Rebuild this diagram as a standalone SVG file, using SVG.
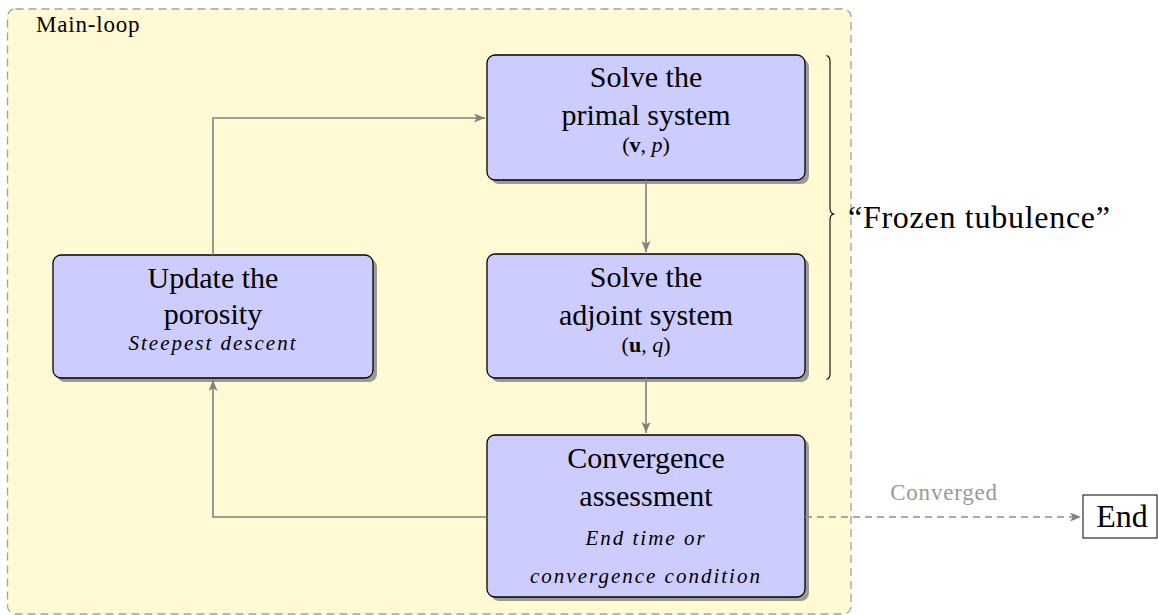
<svg xmlns="http://www.w3.org/2000/svg" width="1158" height="615" viewBox="0 0 1158 615">
<style>
.main{font-family:"Liberation Serif","Times New Roman",serif;font-size:30px;fill:#000;text-anchor:middle}
.sub{font-family:"Liberation Serif","Times New Roman",serif;font-size:22px;fill:#000;text-anchor:middle}
.it{font-family:"Liberation Serif","Times New Roman",serif;font-size:21px;font-style:italic;letter-spacing:2px;fill:#000;text-anchor:middle}
.node{fill:#CCCCFF;stroke:#000;stroke-width:1.3}
.shadow{fill:#9b9b93}
.conn{fill:none;stroke:#808080;stroke-width:1.6}
.dash{fill:none;stroke:#8c8c8c;stroke-width:1.6;stroke-dasharray:7 5}
</style>
<defs>
<marker id="arr" markerUnits="userSpaceOnUse" markerWidth="13" markerHeight="10" refX="11" refY="4.5" orient="auto">
<path d="M0,0 L11,4.5 L0,9 L2.8,4.5 z" fill="#808080"/>
</marker>
</defs>
<g id="main-loop">
<rect x="7.5" y="9" width="843.5" height="605" rx="8" fill="#FFFAD4" stroke="#a0a0a0" stroke-width="1.3" stroke-dasharray="8 5"/>
<text x="36" y="32" style="font-family:'Liberation Serif','Times New Roman',serif;font-size:23px;letter-spacing:0.8px">Main-loop</text>
</g>
<g id="primal">
<rect class="shadow" x="491" y="59" width="318" height="125" rx="8"/>
<rect class="node" x="487" y="55" width="318" height="125" rx="8"/>
<text class="main" x="646" y="87">Solve the</text>
<text class="main" x="646" y="125">primal system</text>
<text class="sub" x="646" y="152">(<tspan font-weight="bold">v</tspan>, <tspan font-style="italic">p</tspan>)</text>
</g>
<g id="adjoint">
<rect class="shadow" x="491" y="258" width="318" height="124" rx="8"/>
<rect class="node" x="487" y="254" width="318" height="124" rx="8"/>
<text class="main" x="646" y="287">Solve the</text>
<text class="main" x="646" y="325">adjoint system</text>
<text class="sub" x="646" y="352">(<tspan font-weight="bold">u</tspan>, <tspan font-style="italic">q</tspan>)</text>
</g>
<g id="update">
<rect class="shadow" x="57" y="259" width="320" height="123" rx="8"/>
<rect class="node" x="53" y="255" width="320" height="123" rx="8"/>
<text class="main" x="213" y="288">Update the</text>
<text class="main" x="213" y="324">porosity</text>
<text class="it" x="213" y="350">Steepest descent</text>
</g>
<g id="convergence">
<rect class="shadow" x="491" y="439" width="318" height="162" rx="8"/>
<rect class="node" x="487" y="435" width="318" height="162" rx="8"/>
<text class="main" x="646" y="468">Convergence</text>
<text class="main" x="646" y="506">assessment</text>
<text class="it" x="646" y="545">End time or</text>
<text class="it" x="646" y="583">convergence condition</text>
</g>
<g id="end">
<rect x="1083" y="495" width="74" height="43" fill="#fff" stroke="#000" stroke-width="1"/>
<text x="1122" y="527" style="font-family:'Liberation Serif','Times New Roman',serif;font-size:32px;text-anchor:middle">End</text>
</g>
<g id="brace">
<path d="M826.5,55.5 Q830,56.5 830,61 V208 Q830,213 833.5,214 Q830,215 830,220 V374 Q830,378.5 826.5,379.5" fill="none" stroke="#000" stroke-width="1.1"/>
<text x="848" y="228" textLength="262" lengthAdjust="spacing" style="font-family:'Liberation Serif','Times New Roman',serif;font-size:32px">“Frozen tubulence”</text>
</g>
<g id="connectors">
<path class="conn" d="M213,255 V118 H485" marker-end="url(#arr)"/>
<path class="conn" d="M646,180 V252" marker-end="url(#arr)"/>
<path class="conn" d="M646,378 V433" marker-end="url(#arr)"/>
<path class="conn" d="M487,517 H213 V380" marker-end="url(#arr)"/>
<path class="dash" d="M805,517 H1081" marker-end="url(#arr)"/>
<text x="944" y="500" style="font-family:'Liberation Serif','Times New Roman',serif;font-size:23px;letter-spacing:0.8px;fill:#999;text-anchor:middle">Converged</text>
</g>
</svg>
